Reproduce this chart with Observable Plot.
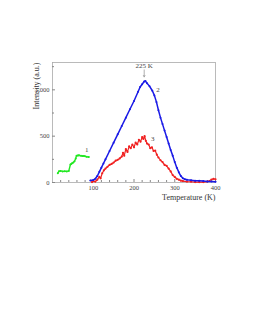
<!DOCTYPE html>
<html><head><meta charset="utf-8">
<script src="https://cdn.jsdelivr.net/npm/d3@7"></script>
<script src="https://cdn.jsdelivr.net/npm/@observablehq/plot@0.6"></script>
<style>body{margin:0;background:#fff}</style>
</head><body><div id="chart"></div>
<script>
const greenT = [13,16,20,25,30,35,40,44,46,48,51,54,57,59,62,65,70,74,77,80,84,89];
const greenI = [100,122,125,120,122,120,125,194,200,208,215,229,260,290,292,294,288,285,287,282,278,275];
const blueT = [93,100,105,110,115,120,125,130,140,150,160,170,180,190,200,210,215,220,225,228,232,238,245,250,255,260,265,270,275,280,285,290,295,300,305,310,315,320,325,330,340,350,360,370,380,390,400];
const blueI = [22,28,40,70,115,160,205,250,340,430,520,610,700,790,880,980,1030,1060,1090,1095,1070,1040,990,940,870,780,700,630,560,490,420,350,290,220,160,110,70,45,35,30,25,20,18,15,12,10,8];
const redT = [97,100,105,110,115,118,122,126,130,135,140,145,150,155,160,165,170,173,176,180,184,188,192,196,200,204,208,212,216,220,223,226,229,232,236,240,244,248,252,256,260,265,270,275,280,285,290,295,300,305,310,315,320,330,340,350,360,370,380,390,395,400];
const redI = [5,15,10,30,60,45,100,130,150,170,190,200,215,235,245,260,280,320,290,360,330,390,370,410,380,430,410,460,440,490,470,500,450,420,410,370,380,340,345,300,270,240,220,190,180,150,120,80,60,40,30,20,15,10,8,5,5,5,10,30,40,35];
const xMajor = [100,200,300,400];
const xMinor = [20,40,60,80,120,140,160,180,220,240,260,280,320,340,360,380];
const yMajor = [0,500,1000];
const yMinor = [250,750,1250];
const curveLabels = ["1","2","3"];
const labelT = [84,259,246];
const labelI = [356,1003,475];
const peakLabel = "225 K";
const peakT = 225;

const green = greenT.map((t,i)=>({t, v:greenI[i]}));
const blue = blueT.map((t,i)=>({t, v:blueI[i]}));
const red = redT.map((t,i)=>({t, v:redI[i]}));
const labs = curveLabels.map((s,i)=>({s, t:labelT[i], v:labelI[i]}));

const font = "Liberation Serif, Times New Roman, serif";
const chart = Plot.plot({
  width: 253, height: 215,
  marginLeft: 52, marginRight: 38, marginTop: 62, marginBottom: 33,
  style: {fontFamily: font, fontSize: "7px", color: "#444", background: "#fff"},
  x: {domain: [0,400]},
  y: {domain: [0,1295]},
  marks: [
    Plot.frame({stroke: "#aaa", strokeWidth: 0.8}),
    Plot.axisX(xMinor, {tickSize: -2, text: null, stroke: "#888", label: null}),
    Plot.axisX(xMajor, {tickSize: -3, tickPadding: 6, stroke: "#888", fill: "#444", fontSize: 6.5, label: null}),
    Plot.axisY(yMinor, {tickSize: -2, text: null, stroke: "#888", label: null}),
    Plot.axisY(yMajor, {tickSize: -3, tickPadding: 6, stroke: "#888", fill: "#444", fontSize: 6.5, label: null}),
    Plot.line(green, {x:"t", y:"v", stroke:"#22e822", strokeWidth:1.4}),
    Plot.dot(green, {x:"t", y:"v", fill:"#22e822", r:1}),
    Plot.line(red, {x:"t", y:"v", stroke:"#f02020", strokeWidth:1.2}),
    Plot.dot(red, {x:"t", y:"v", fill:"#f02020", r:1.1}),
    Plot.line(blue, {x:"t", y:"v", stroke:"#1a1ae6", strokeWidth:1.5}),
    Plot.dot(blue, {x:"t", y:"v", fill:"#1a1ae6", r:1}),
    Plot.text(labs, {x:"t", y:"v", text:"s", fill:"#444", fontSize:7}),
    Plot.text([peakLabel], {x: peakT, y: 1255, fill:"#444", fontSize:7}),
    Plot.arrow([peakT], {x1: d=>d, x2: d=>d, y1: 1215, y2: 1140, stroke:"#999", strokeWidth:0.8, headLength:3}),
    Plot.text(["Intensity (a.u.)"], {frameAnchor:"top-left", rotate:-90, dx:-19, textAnchor:"end", fill:"#333", fontSize:8}),
    Plot.text(["Temperature (K)"], {frameAnchor:"bottom-right", dy:17, textAnchor:"end", fill:"#333", fontSize:8})
  ]
});
document.getElementById("chart").append(chart);
</script>
</body></html>
